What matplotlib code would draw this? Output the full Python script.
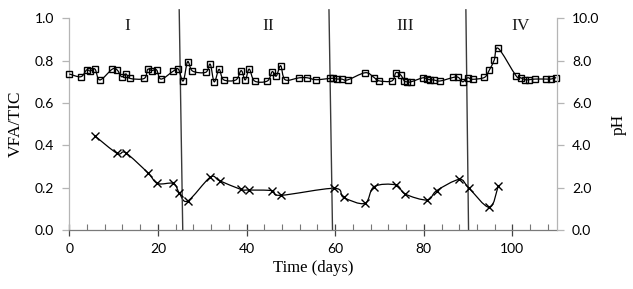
import numpy as np
import matplotlib
matplotlib.use("Agg")
import matplotlib.pyplot as plt
from matplotlib.path import Path
from matplotlib.patches import PathPatch
from matplotlib.ticker import MultipleLocator, FormatStrFormatter

# ---- data ----
ph_days = [0, 2.6, 3.9, 4.7, 5.8, 6.9, 9.7, 10.8, 11.8, 12.8, 13.7, 16.9, 17.7, 18.6, 19.7,
           20.7, 23.5, 24.6, 25.7, 26.7, 27.8, 30.8, 31.8, 32.7, 33.8, 34.8, 37.6, 38.8,
           39.7, 40.6, 41.8, 44.7, 45.8, 46.7, 47.7, 48.7, 51.9, 53.7, 55.7, 58.8, 59.6,
           60.5, 61.5, 62.8, 66.8, 68.8, 69.8, 72.8, 73.7, 74.8, 75.6, 76.2, 77.1, 79.8,
           80.7, 81.4, 82.2, 83.7, 86.7, 87.8, 88.8, 89.9, 91.0, 93.7, 94.8, 95.9, 96.8,
           100.8, 101.9, 102.9, 103.8, 105.1, 107.6, 108.7, 109.9]
ph_values = [7.37, 7.24, 7.56, 7.51, 7.60, 7.09, 7.60, 7.56, 7.24, 7.37, 7.16, 7.16, 7.59,
             7.53, 7.56, 7.13, 7.51, 7.60, 7.04, 7.95, 7.51, 7.45, 7.83, 7.00, 7.59, 7.10,
             7.09, 7.53, 7.09, 7.60, 7.04, 7.04, 7.48, 7.27, 7.76, 7.10, 7.19, 7.19, 7.10,
             7.16, 7.16, 7.13, 7.13, 7.09, 7.43, 7.20, 7.05, 7.04, 7.43, 7.32, 7.04, 7.00,
             7.00, 7.19, 7.13, 7.10, 7.09, 7.04, 7.21, 7.21, 7.00, 7.19, 7.12, 7.21, 7.56,
             8.03, 8.58, 7.29, 7.19, 7.10, 7.10, 7.13, 7.13, 7.13, 7.20]

vfa_days = [5.8, 10.8, 12.7, 17.7, 19.9, 23.5, 24.8, 26.7, 31.8, 33.9, 38.7, 40.6, 45.7,
            47.7, 59.8, 61.9, 66.7, 68.8, 73.7, 75.8, 80.8, 82.9, 88.0, 90.1, 94.8, 96.8]
vfa_values = [0.444, 0.362, 0.365, 0.271, 0.220, 0.220, 0.176, 0.137, 0.249, 0.233, 0.192,
              0.189, 0.186, 0.164, 0.197, 0.154, 0.126, 0.205, 0.213, 0.170, 0.142, 0.186,
              0.239, 0.200, 0.107, 0.208]

phase_labels = ["I", "II", "III", "IV"]
phase_label_days = [13, 44.8, 75.9, 101.8]
phase_bound_top = [24.8, 58.6, 89.5]
phase_bound_bottom = [25.6, 59.4, 90.1]


def smooth_path(x, y):
    pts = np.column_stack([x, y]).astype(float)
    n = len(pts)
    verts = [pts[0]]
    codes = [Path.MOVETO]
    for i in range(n - 1):
        p0 = pts[i - 1] if i > 0 else pts[i]
        p1 = pts[i]
        p2 = pts[i + 1]
        p3 = pts[i + 2] if i + 2 < n else pts[i + 1]
        c1 = p1 + (p2 - p0) / 6.0
        c2 = p2 - (p3 - p1) / 6.0
        verts += [c1, c2, p2]
        codes += [Path.CURVE4] * 3
    return Path(verts, codes)


tick_font = "Lato"
serif = "Liberation Serif"

fig = plt.figure(figsize=(6.33, 2.89), dpi=100)
ax = fig.add_axes([0.1095, 0.204, 0.7700, 0.7327])
ax2 = ax.twinx()

ax.set_xlim(0, 110)
ax.set_ylim(0, 1.0)
ax2.set_ylim(0, 10)

spine_col = "#b5b5b5"
for a in (ax, ax2):
    a.spines["top"].set_visible(False)
ax.spines["right"].set_visible(False)
ax2.spines["bottom"].set_visible(False)
ax2.spines["left"].set_visible(False)
ax.spines["left"].set_color(spine_col)
ax2.spines["right"].set_color(spine_col)
ax.spines["bottom"].set_color("#7a7a7a")
for s in ("left", "bottom"):
    ax.spines[s].set_linewidth(0.9)
ax2.spines["right"].set_linewidth(0.9)

# VFA/TIC smoothed line + crosses
patch = PathPatch(smooth_path(vfa_days, vfa_values), facecolor="none", edgecolor="black",
                  lw=0.9, transform=ax.transData)
ax.add_patch(patch)
ax.plot(vfa_days, vfa_values, linestyle="none", marker="x", ms=6, mew=1.0, color="black")

# pH smoothed line + squares
patch2 = PathPatch(smooth_path(ph_days, ph_values), facecolor="none", edgecolor="black",
                   lw=0.9, transform=ax2.transData)
ax2.add_patch(patch2)
ax2.plot(ph_days, ph_values, linestyle="none", marker="s", ms=5, mew=1.0,
         markerfacecolor="none", markeredgecolor="black", clip_on=False)

# phase boundaries
for xb, xt in zip(phase_bound_bottom, phase_bound_top):
    ax.plot([xb, xt], [0, 1.04], color="#3a3a3a", lw=1.0, clip_on=False, zorder=1)

for lab, d in zip(phase_labels, phase_label_days):
    ax.text(d, 0.965, lab, ha="center", va="center", fontsize=12.5, family=serif,
            color="#1a1a1a")

# ticks
ax.xaxis.set_major_locator(MultipleLocator(20))
ax.xaxis.set_minor_locator(MultipleLocator(4))
ax.yaxis.set_major_locator(MultipleLocator(0.2))
ax.yaxis.set_major_formatter(FormatStrFormatter("%.1f"))
ax2.yaxis.set_major_locator(MultipleLocator(2))
ax2.yaxis.set_major_formatter(FormatStrFormatter("%.1f"))

ax.tick_params(axis="x", which="major", direction="inout", length=8, width=0.9,
               color="#444444", pad=5, labelsize=10)
ax.tick_params(axis="x", which="minor", direction="in", length=4, width=0.8,
               color="#777777")
ax.tick_params(axis="y", which="major", direction="out", length=5, width=0.9,
               color=spine_col, pad=6, labelsize=10)
ax2.tick_params(axis="y", which="major", direction="out", length=5, width=0.9,
                color=spine_col, pad=6, labelsize=10)
for lab in ax.get_xticklabels() + ax.get_yticklabels() + ax2.get_yticklabels():
    lab.set_family(tick_font)

ax.set_xlabel("Time (days)", fontsize=12, family=serif, labelpad=4)
ax.set_ylabel("VFA/TIC", fontsize=12.5, family=serif, labelpad=8)
ax2.set_ylabel("pH", fontsize=12.5, family=serif, labelpad=8)

fig.savefig("out.png", dpi=100)
